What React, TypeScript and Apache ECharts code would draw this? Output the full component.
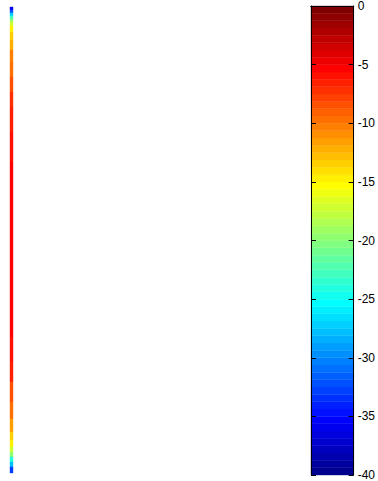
import React, { useEffect, useRef } from "react";
import * as echarts from "echarts";

// Surface seen edge-on: row boundaries along the strip and the value of each row
const lineEdges = [0, 3, 6, 9, 12, 15, 19, 25, 33, 43, 55, 70, 85, 100, 125, 155, 330, 355, 375, 395, 412, 425, 433, 440, 445, 450, 455, 460, 466];
const lineValues = [-36, -32, -27, -23, -20, -17, -15, -13.5, -12, -10.5, -9.5, -8.5, -7.5, -6.5, -5.8, -5.2, -5.8, -6.8, -8.5, -10, -11.5, -13.5, -15, -17, -20, -24, -28, -33];

// Colour bar
const cMin = -40;
const cMax = 0;
const levels = 64;
const tickLabels = [0, -5, -10, -15, -20, -25, -30, -35, -40];

function jetRow(k: number): [number, number, number] {
  // MATLAB jet(64), k = 1..64
  const u = (j: number) => (j < 1 || j > 47 ? 0 : j <= 16 ? j / 16 : j <= 31 ? 1 : (48 - j) / 16);
  const r = k >= 25 ? u(k - 24) : 0;
  const g = k >= 9 && k <= 55 ? u(k - 8) : 0;
  const b = k <= 39 ? u(k + 8) : 0;
  return [r, g, b];
}

function colorFor(v: number): string {
  let k = Math.floor(((v - cMin) / (cMax - cMin)) * levels) + 1;
  if (k < 1) k = 1;
  if (k > levels) k = levels;
  const [r, g, b] = jetRow(k);
  return `rgb(${Math.round(r * 255)},${Math.round(g * 255)},${Math.round(b * 255)})`;
}

const stripData = lineValues.map((v, i) => [lineEdges[i], lineEdges[i + 1], v]);
const barData: number[][] = [];
for (let k = 0; k < levels; k++) {
  const lo = cMin + (k * (cMax - cMin)) / levels;
  const hi = cMin + ((k + 1) * (cMax - cMin)) / levels;
  barData.push([lo, hi, (lo + hi) / 2]);
}

const bandRender = (params: any, api: any) => {
  const y0 = api.value(0);
  const y1 = api.value(1);
  const v = api.value(2);
  const p0 = api.coord([0, y0]);
  const p1 = api.coord([1, y1]);
  const c = colorFor(v);
  return {
    type: "rect",
    shape: {
      x: p0[0],
      y: Math.min(p0[1], p1[1]),
      width: p1[0] - p0[0],
      height: Math.abs(p1[1] - p0[1]),
    },
    style: { fill: c, stroke: c, lineWidth: 0.4 },
  };
};

export default function App() {
  const ref = useRef<HTMLDivElement>(null);
  useEffect(() => {
    if (!ref.current) return;
    const chart = echarts.init(ref.current, null, { renderer: "svg" });
    const font = "Liberation Sans, Arial, sans-serif";
    chart.setOption({
      animation: false,
      backgroundColor: "#fff",
      grid: [
        { left: 10, top: 7, width: 3, height: 466 },
        { left: 311, top: 6, width: 44, height: 470 },
      ],
      xAxis: [
        { gridIndex: 0, type: "value", min: 0, max: 1, show: false },
        {
          gridIndex: 1, type: "value", min: 0, max: 1, position: "bottom", z: 10,
          axisLine: { show: true, lineStyle: { color: "#000", width: 1 } },
          axisTick: { show: false }, axisLabel: { show: false }, splitLine: { show: false },
        },
        {
          gridIndex: 1, type: "value", min: 0, max: 1, position: "top", z: 10,
          axisLine: { show: true, lineStyle: { color: "#000", width: 1 } },
          axisTick: { show: false }, axisLabel: { show: false }, splitLine: { show: false },
        },
      ],
      yAxis: [
        { gridIndex: 0, type: "value", min: 0, max: 466, inverse: true, show: false },
        {
          gridIndex: 1, type: "value", min: cMin, max: cMax, interval: 5, position: "right", z: 10,
          axisLine: { show: true, onZero: false, lineStyle: { color: "#000", width: 1 } },
          axisTick: { show: true, inside: true, length: 5, lineStyle: { color: "#000" } },
          axisLabel: {
            show: true, margin: 4, color: "#000", fontSize: 12, fontFamily: font,
            showMinLabel: true, showMaxLabel: true,
            formatter: (v: number) => (tickLabels.includes(v) ? String(v) : ""),
          },
          splitLine: { show: false },
        },
        {
          gridIndex: 1, type: "value", min: cMin, max: cMax, interval: 5, position: "left", z: 10,
          axisLine: { show: true, onZero: false, lineStyle: { color: "#000", width: 1 } },
          axisTick: { show: true, inside: true, length: 5, lineStyle: { color: "#000" } },
          axisLabel: { show: false },
          splitLine: { show: false },
        },
      ],
      series: [
        {
          type: "custom",
          xAxisIndex: 0,
          yAxisIndex: 0,
          renderItem: bandRender,
          data: stripData,
          z: 2,
          silent: true,
        },
        {
          type: "custom",
          xAxisIndex: 1,
          yAxisIndex: 1,
          renderItem: bandRender,
          data: barData,
          z: 2,
          silent: true,
        },
      ],
    });
    return () => chart.dispose();
  }, []);
  return (
    <div
      ref={ref}
      style={{ position: "fixed", left: 0, top: 0, width: 378, height: 481 }}
    />
  );
}
